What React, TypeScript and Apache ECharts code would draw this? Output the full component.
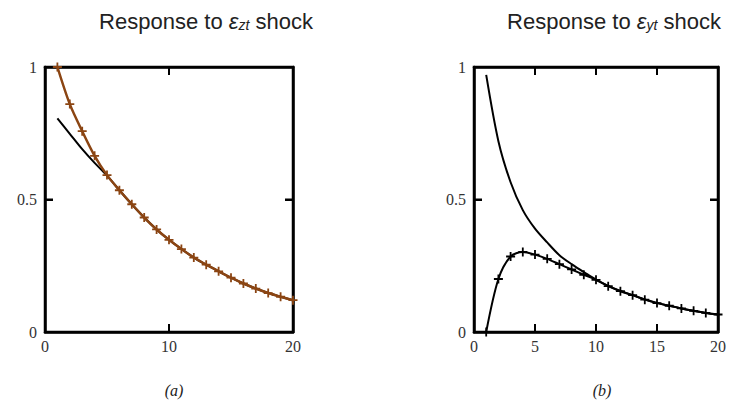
import React, { useEffect, useRef } from "react";
import * as echarts from "echarts";

const steps = [1, 2, 3, 4, 5, 6, 7, 8, 9, 10, 11, 12, 13, 14, 15, 16, 17, 18, 19, 20];
// Panel (a)
const aModel = [1.0, 0.86, 0.758, 0.665, 0.592, 0.535, 0.482, 0.432, 0.387, 0.348, 0.313, 0.281, 0.254, 0.229, 0.205, 0.183, 0.164, 0.147, 0.133, 0.12];
const aTrue = [0.806, 0.748, 0.69, 0.638, 0.59, 0.535, 0.482, 0.432, 0.387, 0.348, 0.313, 0.281, 0.254, 0.229, 0.205, 0.183, 0.164, 0.147, 0.133, 0.12];
// Panel (b)
const bUpper = [0.97, 0.72, 0.565, 0.46, 0.39, 0.338, 0.29, 0.256, 0.226, 0.198, 0.174, 0.155, 0.139, 0.123, 0.11, 0.099, 0.089, 0.08, 0.072, 0.066];
const bLower = [0.0, 0.2, 0.285, 0.302, 0.292, 0.276, 0.256, 0.236, 0.216, 0.197, 0.173, 0.154, 0.139, 0.122, 0.109, 0.099, 0.089, 0.08, 0.072, 0.066];
const xIntervalA = 10;
const xIntervalB = 5;
const yInterval = 0.5;
const xInnerTicksA = [10];
const xInnerTicksB = [5, 10, 15];
const yInnerTicks = [0.5];
const titleA = "zt";
const titleB = "yt";

const PLUS = "path://M4,0H6V4H10V6H6V10H4V6H0V4H4Z";
const BROWN = "#8b4513";
const TICK = 8;

export default function App() {
  const ref = useRef<HTMLDivElement>(null);
  useEffect(() => {
    const chart = echarts.init(ref.current!, null, { renderer: "svg" });
    const serif = "'Liberation Serif', 'DejaVu Serif', serif";
    const labelStyle = { color: "#333", fontFamily: serif, fontSize: 16 };
    const mkX = (gi: number, interval: number, pos: "bottom" | "top") => ({
      type: "value",
      gridIndex: gi,
      position: pos,
      min: 0,
      max: 20,
      interval,
      axisLine: { show: true, onZero: false, lineStyle: { color: "#000", width: 2.5 } },
      axisTick: { show: true, inside: true, length: TICK, lineStyle: { color: "#000", width: 2 } },
      axisLabel: pos === "bottom" ? { margin: 6, ...labelStyle } : { show: false },
      splitLine: { show: false },
    });
    const mkY = (gi: number, pos: "left" | "right") => ({
      type: "value",
      gridIndex: gi,
      position: pos,
      min: 0,
      max: 1,
      interval: yInterval,
      axisLine: { show: true, onZero: false, lineStyle: { color: "#000", width: 2.5 } },
      axisTick: { show: true, inside: true, length: TICK, lineStyle: { color: "#000", width: 2 } },
      axisLabel: pos === "left" ? { margin: 8, ...labelStyle } : { show: false },
      splitLine: { show: false },
    });
    const pts = (ys: number[]) => steps.map((x, i) => [x, ys[i]]);
    const tickFill = { fill: "#000" };
    const xTickSeries = (xi: number, yi: number, vals: number[]) => ({
      type: "custom", xAxisIndex: xi, yAxisIndex: yi, silent: true, z: 5,
      data: vals.map((v) => [v, 0]),
      renderItem: (_p: any, api: any) => {
        const v = api.value(0);
        const b = api.coord([v, 0]);
        const t = api.coord([v, 1]);
        return {
          type: "group",
          children: [
            { type: "rect", shape: { x: b[0] - 1, y: b[1] - TICK, width: 2, height: TICK }, style: tickFill },
            { type: "rect", shape: { x: t[0] - 1, y: t[1], width: 2, height: TICK }, style: tickFill },
          ],
        };
      },
    });
    const yTickSeries = (xi: number, yi: number, vals: number[]) => ({
      type: "custom", xAxisIndex: xi, yAxisIndex: yi, silent: true, z: 5,
      data: vals.map((v) => [0, v]),
      renderItem: (_p: any, api: any) => {
        const v = api.value(1);
        const l = api.coord([0, v]);
        const r = api.coord([20, v]);
        return {
          type: "group",
          children: [
            { type: "rect", shape: { x: l[0], y: l[1] - 1, width: TICK, height: 2 }, style: tickFill },
            { type: "rect", shape: { x: r[0] - TICK, y: r[1] - 1, width: TICK, height: 2 }, style: tickFill },
          ],
        };
      },
    });
    const sans = "'Liberation Sans', Arial, sans-serif";
    const titleRich = {
      n: { fontFamily: sans, fontSize: 22, fontWeight: "normal", color: "#222" },
      e: { fontFamily: sans, fontSize: 22, fontWeight: "normal", fontStyle: "italic", color: "#222" },
      s: { fontFamily: sans, fontSize: 14, fontWeight: "normal", fontStyle: "italic", color: "#222", verticalAlign: "bottom", padding: [7, 0, 0, 0] },
    };
    const capStyle = { fontFamily: serif, fontStyle: "italic", fontSize: 16, fontWeight: "normal", color: "#222" };
    chart.setOption({
      animation: false,
      backgroundColor: "#fff",
      title: [
        { text: `{n|Response to }{e|ε}{s|${titleA}}{n| shock}`, left: 201, top: 5, textAlign: "center", textStyle: { fontWeight: "normal", rich: titleRich } },
        { text: `{n|Response to }{e|ε}{s|${titleB}}{n| shock}`, left: 609, top: 5, textAlign: "center", textStyle: { fontWeight: "normal", rich: titleRich } },
        { text: "(a)", left: 169, top: 377, textAlign: "center", textStyle: capStyle },
        { text: "(b)", left: 597, top: 377, textAlign: "center", textStyle: capStyle },
      ],
      grid: [
        { left: 45, width: 248, top: 67, height: 265, show: true, borderColor: "#000", borderWidth: 2.5, backgroundColor: "transparent" },
        { left: 474, width: 244, top: 67, height: 265, show: true, borderColor: "#000", borderWidth: 2.5, backgroundColor: "transparent" },
      ],
      xAxis: [mkX(0, xIntervalA, "bottom"), mkX(0, xIntervalA, "top"), mkX(1, xIntervalB, "bottom"), mkX(1, xIntervalB, "top")],
      yAxis: [mkY(0, "left"), mkY(0, "right"), mkY(1, "left"), mkY(1, "right")],
      series: [
        {
          type: "line", xAxisIndex: 0, yAxisIndex: 0, data: pts(aTrue), symbol: "none", smooth: 0.3,
          lineStyle: { color: "#000", width: 2 }, z: 2,
        },
        {
          type: "line", xAxisIndex: 0, yAxisIndex: 0, data: pts(aModel), symbol: PLUS, symbolSize: 9, smooth: 0.3,
          itemStyle: { color: BROWN }, lineStyle: { color: BROWN, width: 2.5 }, z: 3,
        },
        {
          type: "line", xAxisIndex: 2, yAxisIndex: 2, data: pts(bUpper), symbol: "none", smooth: 0.3,
          lineStyle: { color: "#000", width: 2 }, z: 2,
        },
        {
          type: "line", xAxisIndex: 2, yAxisIndex: 2, data: pts(bLower), symbol: PLUS, symbolSize: 9, smooth: 0.3,
          itemStyle: { color: "#000" }, lineStyle: { color: "#000", width: 2 }, z: 3,
        },
        xTickSeries(0, 0, xInnerTicksA),
        yTickSeries(0, 0, yInnerTicks),
        xTickSeries(2, 2, xInnerTicksB),
        yTickSeries(2, 2, yInnerTicks),
      ],
    });
    return () => chart.dispose();
  }, []);
  return <div ref={ref} style={{ position: "fixed", left: 0, top: 0, width: 736, height: 403 }} />;
}
